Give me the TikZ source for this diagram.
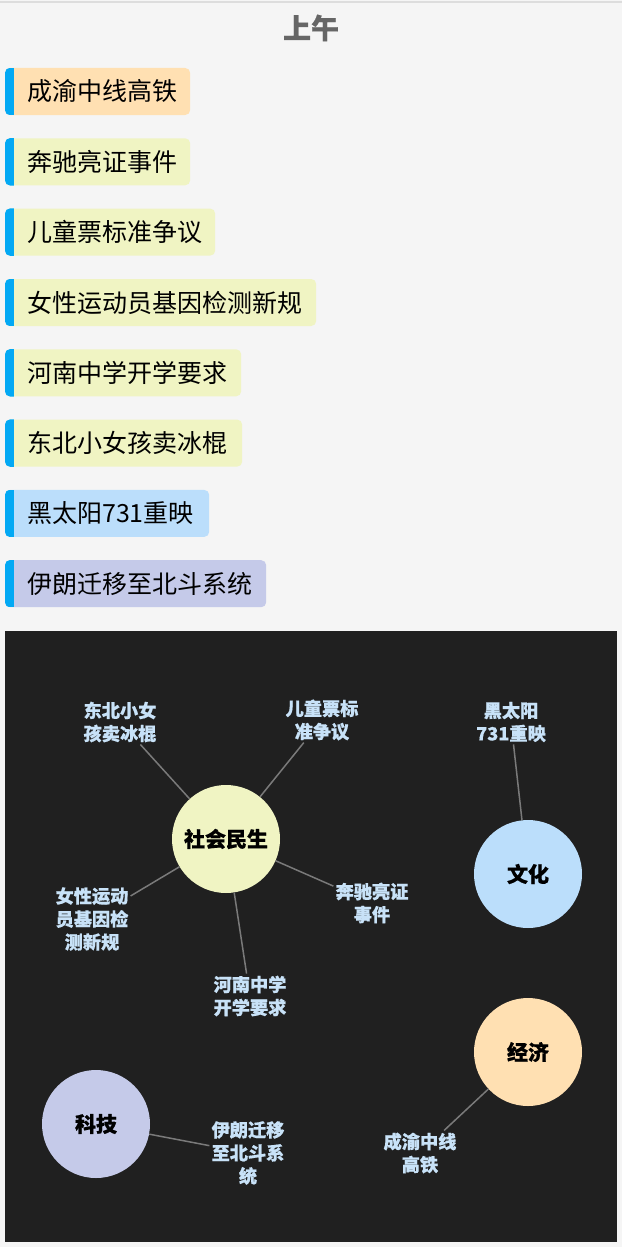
\documentclass[tikz,border=0pt]{standalone}
\usepackage{fontspec}
\setmainfont{Noto Sans CJK SC}
\newfontfamily\heavyfont[BoldFeatures={FakeBold=0.6}]{Noto Sans CJK SC}
\definecolor{pagebg}{HTML}{F5F5F5}
\definecolor{topline}{HTML}{DDDDDD}
\definecolor{titlegrey}{HTML}{666666}
\definecolor{barblue}{HTML}{03A9F4}
\definecolor{corange}{HTML}{FFE0B2}
\definecolor{clime}{HTML}{F0F4C3}
\definecolor{cblue}{HTML}{BBDEFB}
\definecolor{cindigo}{HTML}{C5CAE9}
\definecolor{panelbg}{HTML}{202020}
\definecolor{linkgrey}{HTML}{7A7A7A}
\definecolor{leaftext}{HTML}{C8E2F8}
\tikzset{
  itembox/.style={rectangle, rounded corners=5pt, minimum height=47pt, inner sep=0pt, anchor=west},
  itemtext/.style={anchor=west, inner sep=0pt, text=black, font=\fontsize{25}{30}\selectfont},
  topic/.style={circle, minimum size=108pt, inner sep=0pt, text=black, font=\fontsize{21}{25}\selectfont\heavyfont\bfseries},
  leaf/.style={align=center, inner sep=2pt, text=leaftext, font=\fontsize{18.2}{23}\selectfont\heavyfont\bfseries},
  link/.style={draw=linkgrey, line width=1.5pt}
}
\begin{document}
\begin{tikzpicture}[x=1pt,y=1pt]
\useasboundingbox (0,0) rectangle (622,-1247);
\fill[pagebg] (0,0) rectangle (622,-1247);
\draw[topline, line width=1.5pt] (0,-2) -- (622,-2);
\node[text=titlegrey, font=\fontsize{28}{32}\selectfont\heavyfont\bfseries] (title) at (311,-28) {上午};
% items
\node[itembox, fill=corange, minimum width=185pt] (b1) at (5,-91.5) {};
\node[itembox, fill=clime,   minimum width=185pt] (b2) at (5,-161.8) {};
\node[itembox, fill=clime,   minimum width=210pt] (b3) at (5,-232.1) {};
\node[itembox, fill=clime,   minimum width=311pt] (b4) at (5,-302.5) {};
\node[itembox, fill=clime,   minimum width=236pt] (b5) at (5,-372.8) {};
\node[itembox, fill=clime,   minimum width=237pt] (b6) at (5,-443.1) {};
\node[itembox, fill=cblue,   minimum width=204pt] (b7) at (5,-513.4) {};
\node[itembox, fill=cindigo, minimum width=261pt] (b8) at (5,-583.7) {};
\foreach \n in {b1,b2,b3,b4,b5,b6,b7,b8}{
  \begin{scope}
    \clip[rounded corners=5pt] (\n.north west) rectangle (\n.south east);
    \fill[barblue] (\n.north west) rectangle ([xshift=9pt]\n.south west);
  \end{scope}
}
\node[itemtext] (t1) at (27,-91.5) {成渝中线高铁};
\node[itemtext] (t2) at (27,-161.8) {奔驰亮证事件};
\node[itemtext] (t3) at (27,-232.1) {儿童票标准争议};
\node[itemtext] (t4) at (27,-302.5) {女性运动员基因检测新规};
\node[itemtext] (t5) at (27,-372.8) {河南中学开学要求};
\node[itemtext] (t6) at (27,-443.1) {东北小女孩卖冰棍};
\node[itemtext] (t7) at (27,-513.4) {黑太阳731重映};
\node[itemtext] (t8) at (27,-583.7) {伊朗迁移至北斗系统};
% panel
\fill[panelbg] (5,-631) rectangle (617,-1242);
% leaves
\node[leaf] (l1) at (120,-722) {东北小女\\孩卖冰棍};
\node[leaf] (l2) at (322,-720) {儿童票标\\准争议};
\node[leaf] (l3) at (511,-722) {黑太阳\\731重映};
\node[leaf] (l4) at (92,-919) {女性运动\\员基因检\\测新规};
\node[leaf] (l5) at (372,-903) {奔驰亮证\\事件};
\node[leaf] (l6) at (250,-996) {河南中学\\开学要求};
\node[leaf] (l7) at (248,-1153) {伊朗迁移\\至北斗系\\统};
\node[leaf] (l8) at (420,-1153) {成渝中线\\高铁};
% topics
\node[topic, fill=clime]   (c1) at (226,-839) {社会民生};
\node[topic, fill=cblue]   (c2) at (528,-874) {文化};
\node[topic, fill=corange] (c3) at (528,-1052) {经济};
\node[topic, fill=cindigo] (c4) at (96,-1124) {科技};
% links
\draw[link] (c1) -- (l1);
\draw[link] (c1) -- (l2);
\draw[link] (c1) -- (l4);
\draw[link] (c1) -- (l5);
\draw[link] (c1) -- (l6);
\draw[link] (c2) -- (l3);
\draw[link] (c3) -- (l8);
\draw[link] (c4) -- (l7);
\end{tikzpicture}
\end{document}
